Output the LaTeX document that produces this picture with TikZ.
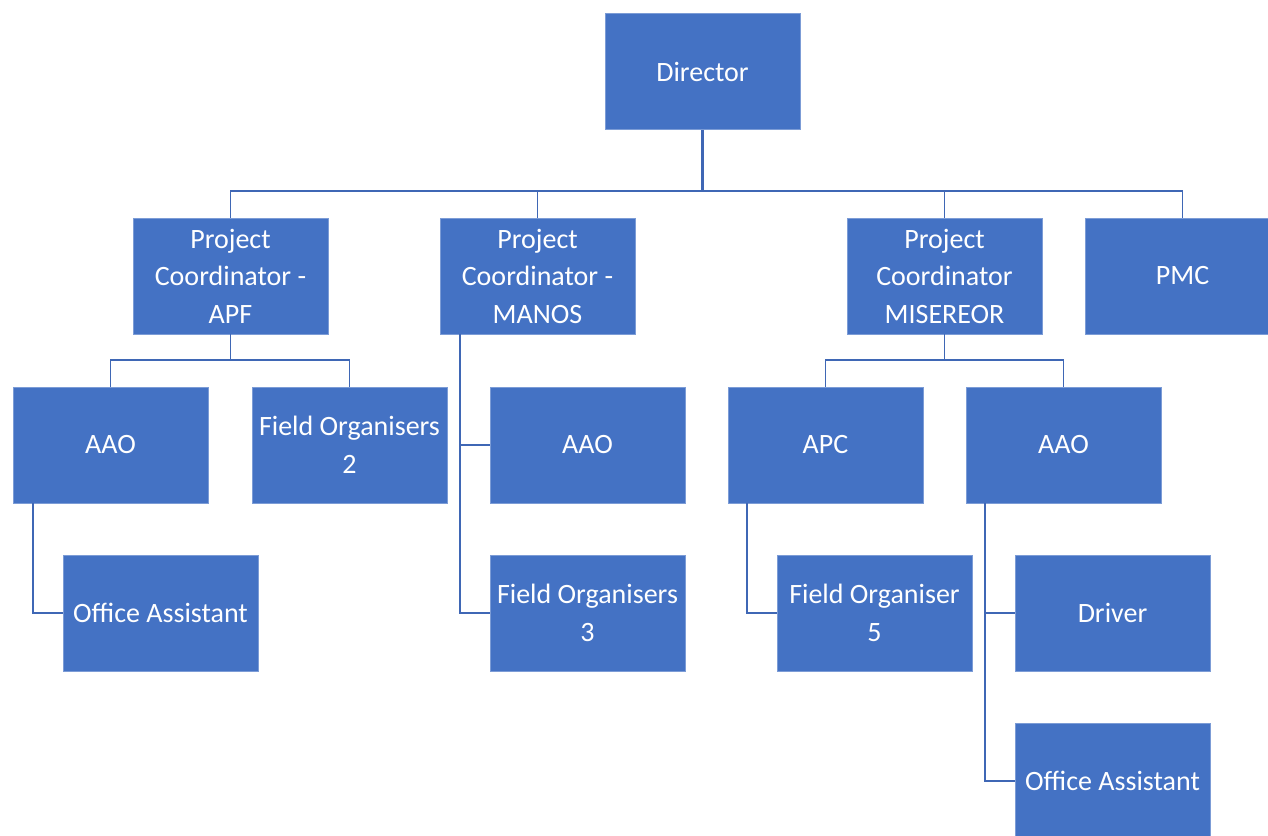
\documentclass[tikz,border=0pt]{standalone}
\usepackage{fontspec}
\setmainfont{Carlito}
\definecolor{boxblue}{HTML}{4472C4}
\definecolor{lineblue}{HTML}{3F67B5}
\begin{document}
\begin{tikzpicture}[x=1pt,y=-1pt,
  box/.style={rectangle, fill=boxblue, draw=boxblue!70!white, line width=0.8pt,
    minimum width=195pt, minimum height=116pt, inner sep=2pt,
    text=white, align=center,
    font=\fontsize{28}{37.5}\selectfont},
  conn/.style={draw=lineblue, line width=1.3pt},
  thick conn/.style={draw=lineblue, line width=2.2pt}]
\useasboundingbox (0,0) rectangle (1268,835);
% level 0
\node[box] (dir) at (702.5,71.5) {Director};
% level 1
\node[box] (apf) at (230.5,276) {Project\\Coordinator -\\APF};
\node[box] (manos) at (537.5,276) {Project\\Coordinator -\\MANOS};
\node[box] (mis) at (944.5,276) {Project\\Coordinator\\MISEREOR};
\node[box] (pmc) at (1182.5,276) {PMC};
% level 2
\node[box] (aao1) at (110.5,445) {AAO};
\node[box] (fo2) at (349.5,445) {Field Organisers\\2};
\node[box] (aao2) at (587.5,445) {AAO};
\node[box] (apc) at (825.5,445) {APC};
\node[box] (aao3) at (1063.5,445) {AAO};
% level 3
\node[box] (oa1) at (160.5,613) {Office Assistant};
\node[box] (fo3) at (587.5,613) {Field Organisers\\3};
\node[box] (fo5) at (874.5,613) {Field Organiser\\5};
\node[box] (drv) at (1112.5,613) {Driver};
% level 4
\node[box] (oa2) at (1112.5,781) {Office Assistant};
% connectors
\coordinate (b0) at (702.5,191);
\draw[thick conn] (dir.south) -- (b0);
\draw[conn] (apf.north) |- (b0) -| (pmc.north);
\draw[conn] (manos.north) -- (manos.north |- b0);
\draw[conn] (mis.north) -- (mis.north |- b0);
% APF children
\coordinate (b1) at (230.5,360);
\draw[conn] (apf.south) -- (b1);
\draw[conn] (aao1.north) |- (b1) -| (fo2.north);
% MANOS children
\coordinate (m1) at (460,334);
\draw[conn] (m1) |- (aao2.west);
\draw[conn] (m1) |- (fo3.west);
% MISEREOR children
\coordinate (b2) at (944.5,360);
\draw[conn] (mis.south) -- (b2);
\draw[conn] (apc.north) |- (b2) -| (aao3.north);
% AAO (APF) child
\coordinate (a1) at (33,503);
\draw[conn] (a1) |- (oa1.west);
% APC child
\coordinate (a2) at (747,503);
\draw[conn] (a2) |- (fo5.west);
% AAO (MISEREOR) children
\coordinate (a3) at (985,503);
\draw[conn] (a3) |- (drv.west);
\draw[conn] (a3) |- (oa2.west);
\end{tikzpicture}
\end{document}
